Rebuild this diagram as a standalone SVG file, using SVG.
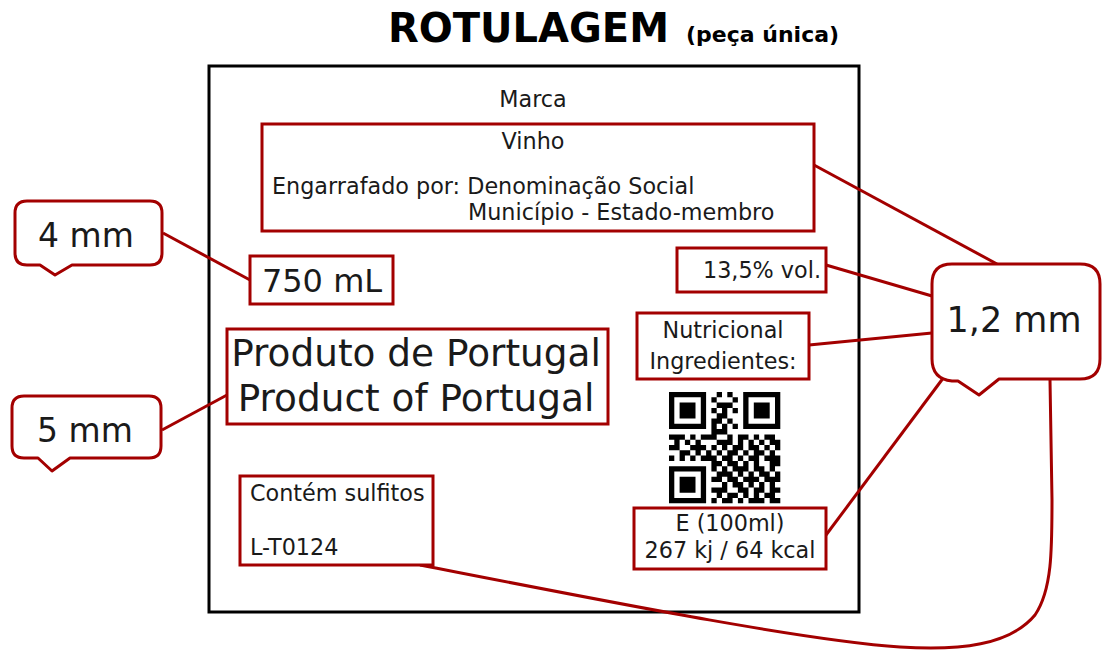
<svg xmlns="http://www.w3.org/2000/svg" width="1102" height="653" viewBox="0 0 1102 653">
<style>
.t{font-family:"DejaVu Sans","Verdana",sans-serif;fill:#1a1a1a}
.s{font-size:22.3px}
.h{font-weight:bold;fill:#000}
.box{fill:#fff;stroke:#a30000;stroke-width:3}
.call{fill:#fff;stroke:#a30000;stroke-width:3;stroke-linejoin:round}
.con{fill:none;stroke:#a30000;stroke-width:3}
</style>
<rect width="1102" height="653" fill="#fff"/>
<g id="title">
<text class="t h" x="388" y="42" font-size="40">ROTULAGEM</text>
<text class="t h" x="686" y="42" font-size="22">(peça única</text>
<text class="t h" x="829" y="42" font-size="22">)</text>
</g>
<g id="label">
<rect x="209" y="66" width="650" height="546" fill="#fff" stroke="#000" stroke-width="3"/>
<text class="t s" x="533" y="107" text-anchor="middle">Marca</text>
</g>
<g id="connectors">
<line class="con" x1="163" y1="233" x2="250" y2="280"/>
<line class="con" x1="162" y1="430" x2="227" y2="395"/>
<line class="con" x1="814" y1="165" x2="997" y2="264"/>
<line class="con" x1="826" y1="265" x2="932" y2="296"/>
<line class="con" x1="809" y1="345" x2="932" y2="333"/>
<line class="con" x1="826" y1="535" x2="944" y2="377"/>
<path class="con" d="M420,565 C600,600 800,640 900,647 C960,651 1010,645 1035,615 C1052,590 1052,550 1052,500 L1050,380"/>
</g>
<g id="vinho">
<rect class="box" x="262" y="124" width="552" height="107"/>
<text class="t s" x="533" y="149" text-anchor="middle">Vinho</text>
<text class="t s" x="272" y="194">Engarrafado por: Denominação Social</text>
<text class="t s" x="468" y="220">Município - Estado-membro</text>
</g>
<g id="volume">
<rect class="box" x="250" y="256" width="143" height="48"/>
<text class="t" x="322" y="292" font-size="32" text-anchor="middle">750 mL</text>
</g>
<g id="alcool">
<rect class="box" x="677" y="248" width="149" height="44"/>
<text class="t s" x="821" y="278" text-anchor="end">13,5% vol.</text>
</g>
<g id="nutricional">
<rect class="box" x="637" y="313" width="172" height="66"/>
<text class="t s" x="723" y="338" text-anchor="middle">Nutricional</text>
<text class="t s" x="723" y="369" text-anchor="middle">Ingredientes:</text>
</g>
<g id="origem">
<rect class="box" x="227" y="329" width="381" height="95"/>
<text class="t" x="416" y="366" font-size="37.4" text-anchor="middle">Produto de Portugal</text>
<text class="t" x="416" y="411" font-size="37.4" text-anchor="middle">Product of Portugal</text>
</g>
<g id="qr">
<path transform="translate(669,392) scale(5.3)" fill="#000" d="M0 0h7v1h-7zM9 0h1v1h-1zM11 0h1v1h-1zM14 0h7v1h-7zM0 1h1v1h-1zM6 1h1v1h-1zM8 1h1v1h-1zM12 1h1v1h-1zM14 1h1v1h-1zM20 1h1v1h-1zM0 2h1v1h-1zM2 2h3v1h-3zM6 2h1v1h-1zM9 2h3v1h-3zM14 2h1v1h-1zM16 2h3v1h-3zM20 2h1v1h-1zM0 3h1v1h-1zM2 3h3v1h-3zM6 3h1v1h-1zM8 3h1v1h-1zM10 3h1v1h-1zM12 3h1v1h-1zM14 3h1v1h-1zM16 3h3v1h-3zM20 3h1v1h-1zM0 4h1v1h-1zM2 4h3v1h-3zM6 4h1v1h-1zM9 4h2v1h-2zM14 4h1v1h-1zM16 4h3v1h-3zM20 4h1v1h-1zM0 5h1v1h-1zM6 5h1v1h-1zM8 5h2v1h-2zM11 5h1v1h-1zM14 5h1v1h-1zM20 5h1v1h-1zM0 6h7v1h-7zM8 6h1v1h-1zM10 6h1v1h-1zM12 6h1v1h-1zM14 6h7v1h-7zM8 7h3v1h-3zM0 8h3v1h-3zM4 8h1v1h-1zM6 8h3v1h-3zM11 8h1v1h-1zM13 8h2v1h-2zM16 8h1v1h-1zM18 8h2v1h-2zM1 9h1v1h-1zM3 9h1v1h-1zM5 9h1v1h-1zM9 9h3v1h-3zM13 9h1v1h-1zM15 9h1v1h-1zM17 9h1v1h-1zM19 9h2v1h-2zM0 10h2v1h-2zM4 10h3v1h-3zM8 10h1v1h-1zM10 10h1v1h-1zM12 10h2v1h-2zM15 10h2v1h-2zM18 10h1v1h-1zM20 10h1v1h-1zM2 11h2v1h-2zM5 11h1v1h-1zM7 11h1v1h-1zM9 11h1v1h-1zM11 11h2v1h-2zM14 11h1v1h-1zM16 11h2v1h-2zM19 11h1v1h-1zM0 12h1v1h-1zM2 12h1v1h-1zM4 12h1v1h-1zM6 12h3v1h-3zM10 12h2v1h-2zM13 12h1v1h-1zM15 12h2v1h-2zM18 12h3v1h-3zM8 13h2v1h-2zM11 13h2v1h-2zM14 13h1v1h-1zM16 13h1v1h-1zM19 13h2v1h-2zM0 14h7v1h-7zM8 14h1v1h-1zM10 14h1v1h-1zM12 14h3v1h-3zM16 14h2v1h-2zM19 14h1v1h-1zM0 15h1v1h-1zM6 15h1v1h-1zM9 15h3v1h-3zM13 15h1v1h-1zM15 15h1v1h-1zM17 15h2v1h-2zM20 15h1v1h-1zM0 16h1v1h-1zM2 16h3v1h-3zM6 16h1v1h-1zM8 16h2v1h-2zM11 16h2v1h-2zM14 16h3v1h-3zM18 16h3v1h-3zM0 17h1v1h-1zM2 17h3v1h-3zM6 17h1v1h-1zM10 17h1v1h-1zM12 17h2v1h-2zM15 17h1v1h-1zM17 17h1v1h-1zM19 17h1v1h-1zM0 18h1v1h-1zM2 18h3v1h-3zM6 18h1v1h-1zM8 18h3v1h-3zM13 18h2v1h-2zM16 18h2v1h-2zM19 18h2v1h-2zM0 19h1v1h-1zM6 19h1v1h-1zM9 19h1v1h-1zM11 19h2v1h-2zM14 19h1v1h-1zM16 19h1v1h-1zM18 19h2v1h-2zM0 20h7v1h-7zM8 20h1v1h-1zM10 20h2v1h-2zM13 20h1v1h-1zM15 20h3v1h-3zM19 20h2v1h-2z"/>
</g>
<g id="sulfitos">
<rect class="box" x="240" y="476" width="193" height="89"/>
<text class="t s" x="250" y="501">Contém sulfitos</text>
<text class="t s" x="250" y="555">L-T0124</text>
</g>
<g id="energia">
<rect class="box" x="634" y="508" width="192" height="61"/>
<text class="t s" x="730" y="531" text-anchor="middle">E (100ml)</text>
<text class="t s" x="730" y="558" text-anchor="middle">267 kj / 64 kcal</text>
</g>
<g id="callout-4mm">
<path class="call" d="M27,201H150Q162,201 162,213V253Q162,265 150,265H72L55,275L40,265H27Q15,265 15,253V213Q15,201 27,201Z"/>
<text class="t" x="86" y="247" font-size="33" text-anchor="middle">4 mm</text>
</g>
<g id="callout-5mm">
<path class="call" d="M24,396H149Q161,396 161,408V446Q161,458 149,458H70L52,471L38,458H24Q12,458 12,446V408Q12,396 24,396Z"/>
<text class="t" x="85" y="442" font-size="33" text-anchor="middle">5 mm</text>
</g>
<g id="callout-12mm">
<path class="call" d="M952,264H1080Q1100,264 1100,284V359Q1100,379 1080,379H999L979,395L958,381H952Q932,379 932,359V284Q932,264 952,264Z"/>
<text class="t" x="1014" y="332" font-size="35" text-anchor="middle">1,2 mm</text>
</g>
</svg>
